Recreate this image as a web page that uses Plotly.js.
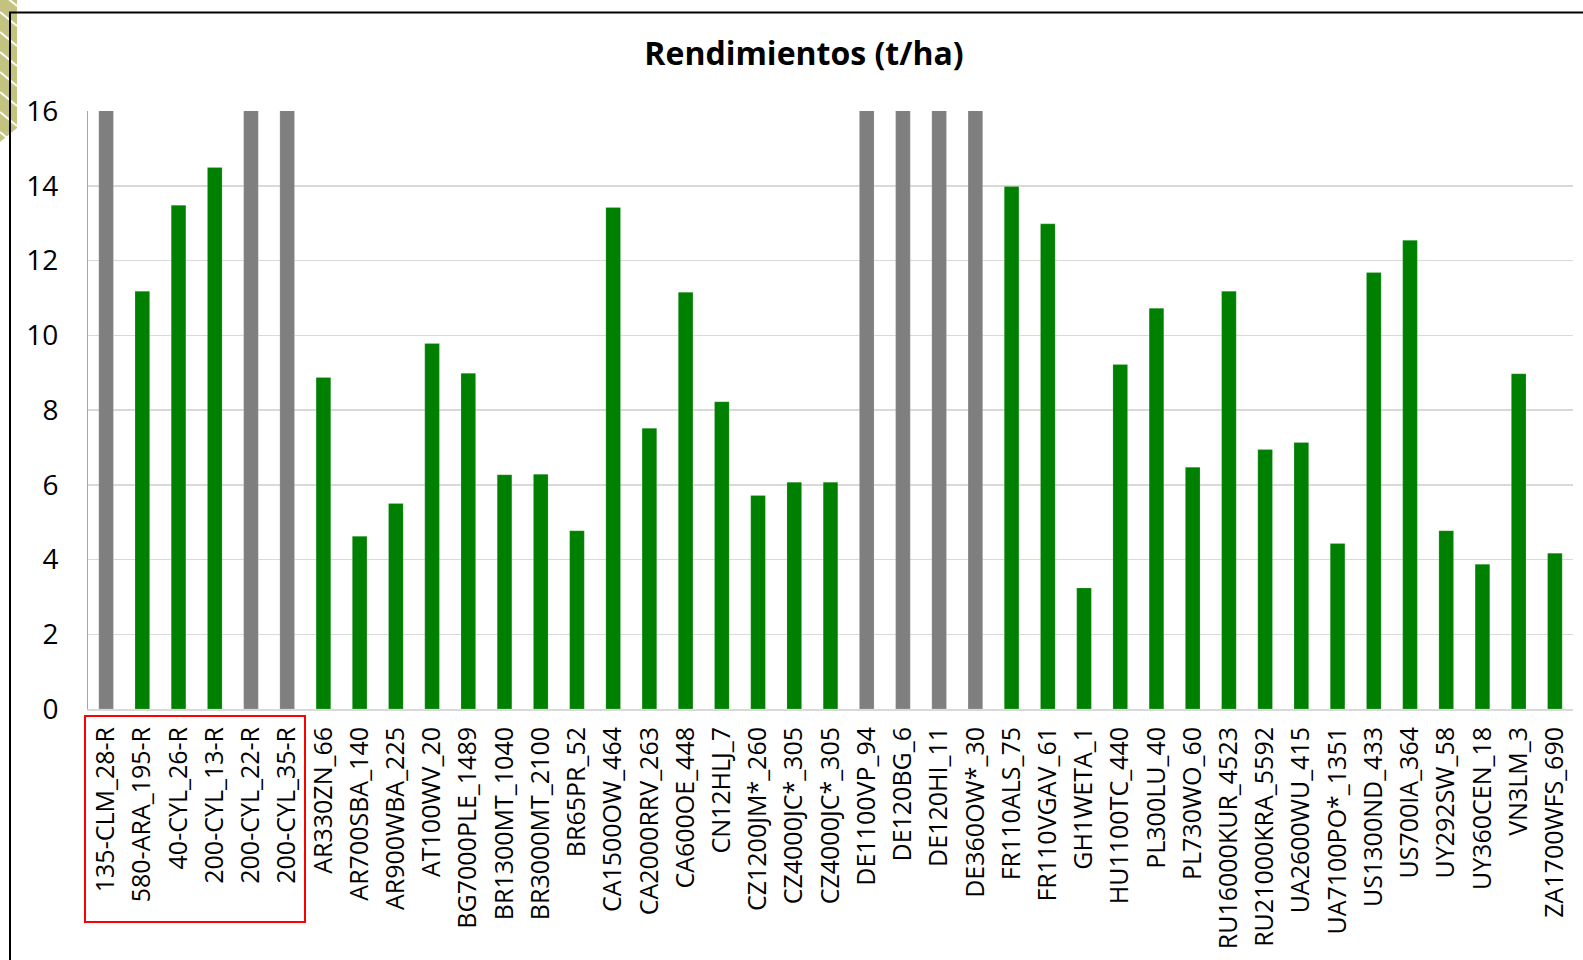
<!DOCTYPE html>
<html>
<head>
<meta charset="utf-8">
<script src="https://cdn.plot.ly/plotly-3.0.1.min.js"></script>
<style>html,body{margin:0;padding:0;background:#fff;}#chart{width:1583px;height:960px;}</style>
</head>
<body>
<div id="chart"></div>
<script>
// Data
var labels = [
  "135-CLM_28-R","580-ARA_195-R","40-CYL_26-R","200-CYL_13-R","200-CYL_22-R","200-CYL_35-R",
  "AR330ZN_66","AR700SBA_140","AR900WBA_225","AT100WV_20","BG7000PLE_1489","BR1300MT_1040",
  "BR3000MT_2100","BR65PR_52","CA1500OW_464","CA2000RRV_263","CA600OE_448","CN12HLJ_7",
  "CZ1200JM*_260","CZ4000JC*_305","CZ4000JC*_305","DE1100VP_94","DE120BG_6","DE120HI_11",
  "DE360OW*_30","FR110ALS_75","FR110VGAV_61","GH1WETA_1","HU1100TC_440","PL300LU_40",
  "PL730WO_60","RU16000KUR_4523","RU21000KRA_5592","UA2600WU_415","UA7100PO*_1351","US1300ND_433",
  "US700IA_364","UY292SW_58","UY360CEN_18","VN3LM_3","ZA1700WFS_690"
];
var rendimientos = [
  16.5, 11.18, 13.48, 14.49, 16.5, 16.5,
  8.87, 4.62, 5.50, 9.78, 8.98, 6.27,
  6.28, 4.77, 13.42, 7.51, 11.15, 8.22,
  5.71, 6.07, 6.07, 16.5, 16.5, 16.5,
  16.5, 13.98, 12.98, 3.24, 9.22, 10.72,
  6.47, 11.18, 6.94, 7.13, 4.43, 11.68,
  12.54, 4.77, 3.87, 8.97, 4.17
];
// 1 = highlighted (gray) series, 0 = regular (green)
var grupo = [
  1,0,0,0,1,1,
  0,0,0,0,0,0,
  0,0,0,0,0,0,
  0,0,0,1,1,1,
  1,0,0,0,0,0,
  0,0,0,0,0,0,
  0,0,0,0,0
];
var yTicks = [0,2,4,6,8,10,12,14,16];

var idx = labels.map(function(_, i){ return i; });
var colors = grupo.map(function(g){ return g ? "#7f7f7f" : "#008000"; });

var W = 1583, H = 960;
var L = 88, R = 10, T = 111, B = 251;
function px(x){ return (x - L) / (W - L - R); }
function py(y){ return (H - B - y) / (H - T - B); }

var stripes = [];
for (var k = 0; k < 8; k++) {
  var y0 = -8 + k * 20;
  stripes.push({type:"line", xref:"paper", yref:"paper",
    x0: px(0), y0: py(y0), x1: px(17), y1: py(y0 + 14),
    line:{color:"#ffffff", width:2}, layer:"above"});
}

var trace = {
  type: "bar",
  x: idx,
  y: rendimientos,
  marker: {color: colors, line:{color:"rgba(255,255,255,0.35)", width:0.5}},
  hoverinfo: "skip",
  cliponaxis: true
};

var shapes = [
  {type:"path", xref:"paper", yref:"paper",
   path: "M " + px(0) + " " + py(0) + " L " + px(17) + " " + py(0) + " L " + px(17) + " " + py(128) + " L " + px(0) + " " + py(142) + " Z",
   fillcolor:"#c3c27f", line:{width:0}, layer:"above"}
].concat(stripes).concat([
  {type:"rect", xref:"paper", yref:"paper",
   x0: px(10), y0: py(12.5), x1: px(1600), y1: py(1000),
   line:{color:"#000000", width:2}, fillcolor:"rgba(0,0,0,0)", layer:"above"},
  {type:"rect", xref:"paper", yref:"paper",
   x0: px(85), y0: py(716), x1: px(305), y1: py(922),
   line:{color:"#ff0000", width:2}, fillcolor:"rgba(0,0,0,0)", layer:"above"}
]);

var layout = {
  width: W, height: H,
  margin: {l: L, r: R, t: T, b: B, pad: 0},
  paper_bgcolor: "#ffffff",
  plot_bgcolor: "#ffffff",
  font: {family: "Open Sans, Liberation Sans, sans-serif", color: "#000000"},
  title: {
    text: "<b>Rendimientos (t/ha)</b>",
    font: {size: 32, color: "#000000", family: "Open Sans, sans-serif"},
    xref: "container", yref: "container",
    x: 804 / W, xanchor: "center",
    y: 1 - 54 / H, yanchor: "middle"
  },
  bargap: 0.595,
  showlegend: false,
  xaxis: {
    range: [-0.5, labels.length - 0.5],
    tickmode: "array",
    tickvals: idx,
    ticktext: labels,
    tickangle: -90,
    tickfont: {size: 25, color: "#000000"},
    ticks: "outside", ticklen: 6, tickcolor: "rgba(0,0,0,0)",
    showgrid: false,
    zeroline: false,
    showline: true, linecolor: "#d9d9d9", linewidth: 2,
    fixedrange: true
  },
  yaxis: {
    range: [0, 16],
    tickmode: "array",
    tickvals: yTicks,
    ticktext: yTicks.map(String),
    tickfont: {size: 28, color: "#000000"},
    ticks: "outside", ticklen: 23, tickcolor: "rgba(0,0,0,0)",
    showgrid: true, gridcolor: "#d9d9d9", gridwidth: 1.5,
    zeroline: false,
    showline: true, linecolor: "#a6a6a6", linewidth: 1,
    fixedrange: true
  },
  shapes: shapes
};

Plotly.newPlot("chart", [trace], layout, {displayModeBar: false, staticPlot: true});
</script>
</body>
</html>
